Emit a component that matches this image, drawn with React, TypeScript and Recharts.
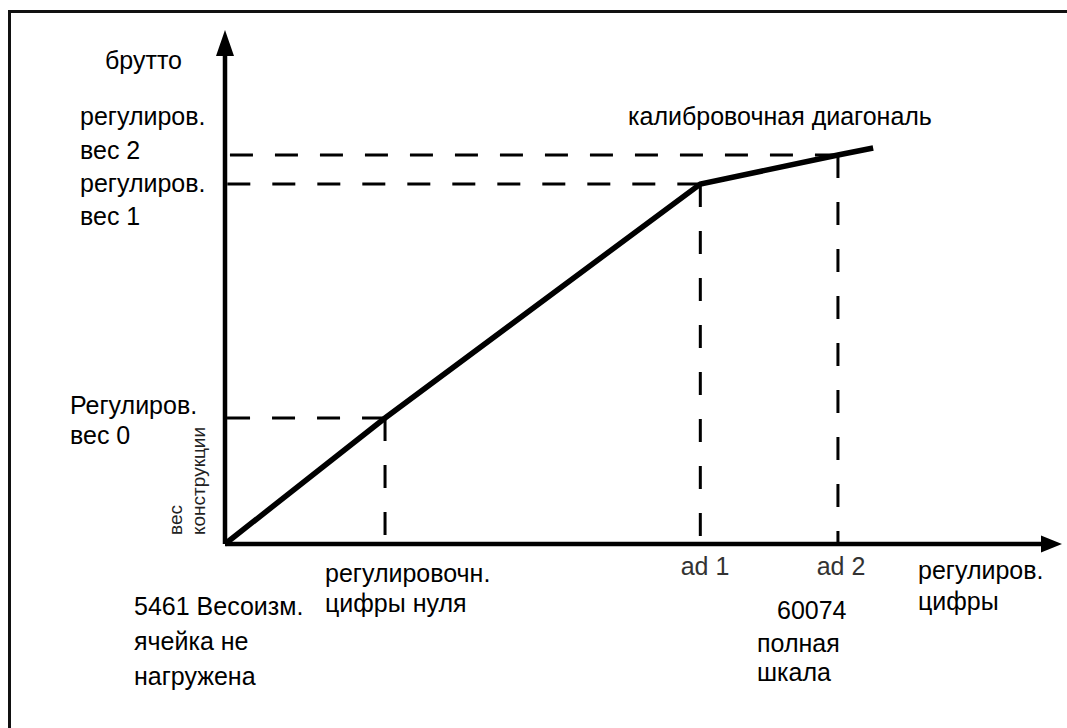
import { ComposedChart, Line, XAxis, YAxis, ReferenceLine, ReferenceDot } from 'recharts';

// schematic units: x = adjustment digits, y = gross weight (arbitrary scale)
const X_MAX = 104.6;
const Y_MAX = 102.8;
const X_ARROW_BASE = 102.2;
const Y_ARROW_BASE = 97.6;

const curveX = [0, 20, 59.4, 76.6, 81];
const curveY = [0, 25.2, 72, 77.8, 79.2];

// calibration points with dashed guides: reg. weight 0, 1, 2
const guideX = [20, 59.4, 76.6];
const guideY = [25.2, 72, 77.8];

const data = curveX.map((x, i) => ({ x, y: curveY[i] }));

const FONT = '"Liberation Sans", Arial, sans-serif';

type Lbl = { text: string; x: number; y: number; center?: boolean; color?: string };

const labels: Lbl[] = [
  { text: 'брутто', x: 105, y: 62 },
  { text: 'регулиров.', x: 80, y: 118 },
  { text: 'вес 2', x: 80, y: 152 },
  { text: 'регулиров.', x: 80, y: 185 },
  { text: 'вес 1', x: 80, y: 218 },
  { text: 'Регулиров.', x: 70, y: 407 },
  { text: 'вес 0', x: 70, y: 437 },
  { text: 'калибровочная диагональ', x: 628, y: 118 },
  { text: 'регулировочн.', x: 325, y: 575 },
  { text: 'цифры нуля', x: 325, y: 605 },
  { text: '5461 Весоизм.', x: 134, y: 608 },
  { text: 'ячейка не', x: 134, y: 643 },
  { text: 'нагружена', x: 134, y: 678 },
  { text: 'ad 1', x: 705, y: 568, center: true, color: '#333' },
  { text: 'ad 2', x: 841, y: 568, center: true, color: '#333' },
  { text: 'регулиров.', x: 918, y: 572 },
  { text: 'цифры', x: 918, y: 603 },
  { text: '60074', x: 777, y: 612 },
  { text: 'полная', x: 757, y: 645 },
  { text: 'шкала', x: 757, y: 674 },
];

const ArrowRight = (props: any) => {
  const { cx, cy } = props;
  return <polygon points={`${cx},${cy} ${cx - 21},${cy - 8.5} ${cx - 21},${cy + 8.5}`} fill="#000" />;
};

const ArrowUp = (props: any) => {
  const { cx, cy } = props;
  return <polygon points={`${cx},${cy} ${cx - 9},${cy + 26} ${cx + 9},${cy + 26}`} fill="#000" />;
};

export default function App() {
  return (
    <div style={{ position: 'absolute', left: 0, top: 0, width: 1067, height: 728, background: '#fff', overflow: 'hidden', fontFamily: FONT }}>
      <div style={{ position: 'absolute', left: 8, top: 10, width: 1100, height: 800, borderLeft: '3px solid #111', borderTop: '3px solid #111' }} />
      <ComposedChart width={1067} height={728} data={data} margin={{ top: 30, right: 5, bottom: 184, left: 225 }} style={{ position: 'absolute', left: 0, top: 0 }}>
        <XAxis type="number" dataKey="x" domain={[0, X_MAX]} hide />
        <YAxis type="number" domain={[0, Y_MAX]} hide />
        {guideX.map((gx, i) => (
          <ReferenceLine
            key={`h${i}`}
            segment={[{ x: gx, y: guideY[i] }, { x: 0, y: guideY[i] }]}
            stroke="#000"
            strokeWidth={3}
            strokeDasharray="23 22"
            ifOverflow="visible"
          />
        ))}
        {guideX.map((gx, i) => (
          <ReferenceLine
            key={`v${i}`}
            segment={[{ x: gx, y: guideY[i] }, { x: gx, y: 0 }]}
            stroke="#000"
            strokeWidth={3}
            strokeDasharray="23 24"
            ifOverflow="visible"
          />
        ))}
        <ReferenceLine segment={[{ x: 0, y: 0 }, { x: X_ARROW_BASE, y: 0 }]} stroke="#000" strokeWidth={4.5} ifOverflow="visible" />
        <ReferenceLine segment={[{ x: 0, y: 0 }, { x: 0, y: Y_ARROW_BASE }]} stroke="#000" strokeWidth={4.5} ifOverflow="visible" />
        <ReferenceDot x={X_MAX} y={0} ifOverflow="visible" shape={ArrowRight} />
        <ReferenceDot x={0} y={Y_MAX} ifOverflow="visible" shape={ArrowUp} />
        <Line type="linear" dataKey="y" stroke="#000" strokeWidth={5.5} dot={false} isAnimationActive={false} />
      </ComposedChart>
      {labels.map((l, i) => (
        <div
          key={i}
          style={{
            position: 'absolute',
            left: l.x,
            top: l.y - 19,
            fontSize: 25,
            lineHeight: '34px',
            whiteSpace: 'nowrap',
            color: l.color || '#000',
            transform: l.center ? 'translateX(-50%)' : undefined,
          }}
        >
          {l.text}
        </div>
      ))}
      <div style={{ position: 'absolute', left: 166, top: 535, fontSize: 19, lineHeight: '19px', whiteSpace: 'nowrap', color: '#222', transform: 'rotate(-90deg)', transformOrigin: '0 0' }}>вес</div>
      <div style={{ position: 'absolute', left: 189, top: 535, fontSize: 19, lineHeight: '19px', whiteSpace: 'nowrap', color: '#222', transform: 'rotate(-90deg)', transformOrigin: '0 0' }}>конструкции</div>
    </div>
  );
}
